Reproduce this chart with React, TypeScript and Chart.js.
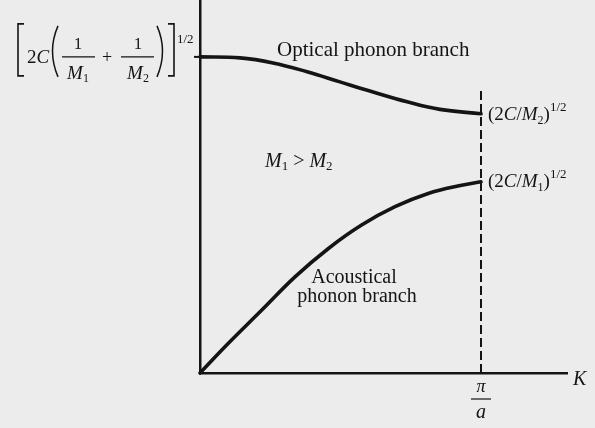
import React, { useEffect, useRef } from "react";
import { Chart, registerables } from "chart.js";

Chart.register(...registerables);

// K in units of pi/a, omega in units of [2C(1/M1+1/M2)]^1/2
const kOptical = [0, 0.142, 0.26, 0.381, 0.498, 0.616, 0.737, 0.854, 1.0];
const wOptical = [1.0, 0.997, 0.981, 0.953, 0.921, 0.889, 0.858, 0.834, 0.82];

const kAcoustic = [0, 0.101, 0.22, 0.338, 0.457, 0.575, 0.694, 0.812, 0.931, 1.0];
const wAcoustic = [0, 0.094, 0.199, 0.304, 0.394, 0.468, 0.526, 0.568, 0.594, 0.605];

const kZoneEdge = [1, 1];
const wZoneEdge = [0, 0.896];

const kAxisMax = 1.306;
const wAxisMax = 1.18;

const INK = "#141414";
const BG = "#ececec";
const SERIF = '"Liberation Serif", "Times New Roman", serif';

type Part = { t: string; size: number; italic?: boolean; dy?: number };

function font(size: number, italic = false) {
  return `${italic ? "italic " : ""}${size}px ${SERIF}`;
}

function runWidth(ctx: CanvasRenderingContext2D, parts: Part[]) {
  let w = 0;
  for (const p of parts) {
    ctx.font = font(p.size, p.italic);
    w += ctx.measureText(p.t).width;
  }
  return w;
}

function drawRun(ctx: CanvasRenderingContext2D, parts: Part[], x: number, y: number, align: "left" | "center" = "left") {
  let cx = align === "center" ? x - runWidth(ctx, parts) / 2 : x;
  ctx.textAlign = "left";
  ctx.textBaseline = "alphabetic";
  for (const p of parts) {
    ctx.font = font(p.size, p.italic);
    ctx.fillText(p.t, cx, y + (p.dy || 0));
    cx += ctx.measureText(p.t).width;
  }
}

function line(ctx: CanvasRenderingContext2D, x1: number, y1: number, x2: number, y2: number, w: number) {
  ctx.lineWidth = w;
  ctx.beginPath();
  ctx.moveTo(x1, y1);
  ctx.lineTo(x2, y2);
  ctx.stroke();
}

const annotations = {
  id: "annotations",
  beforeDraw(chart: any) {
    const { ctx, width, height } = chart;
    ctx.save();
    ctx.fillStyle = BG;
    ctx.fillRect(0, 0, width, height);
    ctx.restore();
  },
  afterDraw(chart: any) {
    const ctx: CanvasRenderingContext2D = chart.ctx;
    const xs = chart.scales.x;
    const ys = chart.scales.y;
    const X = (v: number) => xs.getPixelForValue(v);
    const Y = (v: number) => ys.getPixelForValue(v);
    ctx.save();
    ctx.fillStyle = INK;
    ctx.strokeStyle = INK;
    ctx.lineCap = "butt";

    const ax = X(0);
    const ay = Y(wOptical[0]);
    // tick on the omega axis
    line(ctx, ax - 6, ay, ax, ay, 2);

    // formula [2C(1/M1 + 1/M2)]^1/2
    const L = ax - 200;
    const T = ay - 57;
    ctx.lineWidth = 1.6;
    ctx.beginPath();
    ctx.moveTo(L + 24, T + 24);
    ctx.lineTo(L + 18, T + 24);
    ctx.lineTo(L + 18, T + 76);
    ctx.lineTo(L + 24, T + 76);
    ctx.stroke();
    ctx.beginPath();
    ctx.moveTo(L + 168, T + 24);
    ctx.lineTo(L + 174, T + 24);
    ctx.lineTo(L + 174, T + 76);
    ctx.lineTo(L + 168, T + 76);
    ctx.stroke();
    ctx.lineWidth = 1.5;
    ctx.beginPath();
    ctx.moveTo(L + 58, T + 26);
    ctx.quadraticCurveTo(L + 47, T + 51, L + 58, T + 77);
    ctx.stroke();
    ctx.beginPath();
    ctx.moveTo(L + 157, T + 26);
    ctx.quadraticCurveTo(L + 168, T + 51, L + 157, T + 77);
    ctx.stroke();
    drawRun(ctx, [{ t: "2", size: 19 }, { t: "C", size: 19, italic: true }], L + 27, T + 63);
    line(ctx, L + 62, T + 57, L + 95, T + 57, 1.2);
    drawRun(ctx, [{ t: "1", size: 17 }], L + 78, T + 49, "center");
    drawRun(ctx, [{ t: "M", size: 19, italic: true }, { t: "1", size: 12, dy: 3 }], L + 78, T + 79, "center");
    drawRun(ctx, [{ t: "+", size: 18 }], L + 107, T + 63, "center");
    line(ctx, L + 121, T + 57, L + 154, T + 57, 1.2);
    drawRun(ctx, [{ t: "1", size: 17 }], L + 138, T + 49, "center");
    drawRun(ctx, [{ t: "M", size: 19, italic: true }, { t: "2", size: 12, dy: 3 }], L + 138, T + 79, "center");
    drawRun(ctx, [{ t: "1/2", size: 13 }], L + 177, T + 43);

    // right-hand labels at the zone edge
    const ex = X(1) + 7;
    const yOpt = Y(wOptical[wOptical.length - 1]);
    const yAc = Y(wAcoustic[wAcoustic.length - 1]);
    const edgeLabel = (sub: string): Part[] => [
      { t: "(2", size: 19 },
      { t: "C", size: 19, italic: true },
      { t: "/", size: 19 },
      { t: "M", size: 19, italic: true },
      { t: sub, size: 12, dy: 4 },
      { t: ")", size: 19 },
      { t: "1/2", size: 13, dy: -9 },
    ];
    drawRun(ctx, edgeLabel("2"), ex, yOpt + 6);
    drawRun(ctx, edgeLabel("1"), ex, yAc + 5);

    // axis labels
    const y0 = Y(0);
    drawRun(ctx, [{ t: "K", size: 20, italic: true }], X(kAxisMax) + 6, y0 + 12);
    const px = X(1);
    drawRun(ctx, [{ t: "π", size: 18, italic: true }], px, y0 + 19, "center");
    line(ctx, px - 10, y0 + 26, px + 10, y0 + 26, 1.2);
    drawRun(ctx, [{ t: "a", size: 20, italic: true }], px, y0 + 45, "center");

    // branch labels
    drawRun(ctx, [{ t: "Optical phonon branch", size: 21 }], L + 277, T + 56);
    drawRun(
      ctx,
      [
        { t: "M", size: 20, italic: true },
        { t: "1", size: 13, dy: 3 },
        { t: " > ", size: 20 },
        { t: "M", size: 20, italic: true },
        { t: "2", size: 13, dy: 3 },
      ],
      L + 265,
      T + 167
    );
    drawRun(ctx, [{ t: "Acoustical", size: 20 }], L + 354, T + 283, "center");
    drawRun(ctx, [{ t: "phonon branch", size: 20 }], L + 357, T + 302, "center");

    ctx.restore();
  },
};

function toPoints(xs: number[], ys: number[]) {
  return xs.map((x, i) => ({ x, y: ys[i] }));
}

export default function App() {
  const ref = useRef<HTMLCanvasElement | null>(null);

  useEffect(() => {
    if (!ref.current) return;
    const chart = new Chart(ref.current, {
      type: "line",
      data: {
        datasets: [
          {
            label: "Optical phonon branch",
            data: toPoints(kOptical, wOptical),
            borderColor: INK,
            borderWidth: 3.6,
            pointRadius: 0,
            tension: 0.4,
            borderCapStyle: "round",
            borderJoinStyle: "round",
            clip: false,
          },
          {
            label: "Acoustical phonon branch",
            data: toPoints(kAcoustic, wAcoustic),
            borderColor: INK,
            borderWidth: 3.6,
            pointRadius: 0,
            tension: 0.4,
            borderCapStyle: "round",
            borderJoinStyle: "round",
            clip: false,
          },
          {
            label: "Zone boundary",
            data: toPoints(kZoneEdge, wZoneEdge),
            borderColor: INK,
            borderWidth: 2,
            borderDash: [9, 4],
            pointRadius: 0,
            clip: false,
          },
        ],
      } as any,
      options: {
        responsive: false,
        animation: false,
        layout: { padding: { left: 200, right: 28, top: 0, bottom: 55 } },
        plugins: { legend: { display: false }, tooltip: { enabled: false } },
        scales: {
          x: {
            type: "linear",
            min: 0,
            max: kAxisMax,
            grid: { display: false, drawTicks: false },
            ticks: { display: false },
            border: { display: true, color: INK, width: 2.5 },
            afterFit: (s: any) => {
              s.height = 0;
            },
          },
          y: {
            type: "linear",
            min: 0,
            max: wAxisMax,
            grid: { display: false, drawTicks: false },
            ticks: { display: false },
            border: { display: true, color: INK, width: 2.5 },
            afterFit: (s: any) => {
              s.width = 0;
            },
          },
        },
      } as any,
      plugins: [annotations],
    });
    return () => chart.destroy();
  }, []);

  return (
    <div style={{ position: "absolute", left: 0, top: 0, width: 595, height: 428, background: BG }}>
      <canvas ref={ref} width={595} height={428} style={{ display: "block" }} />
    </div>
  );
}
